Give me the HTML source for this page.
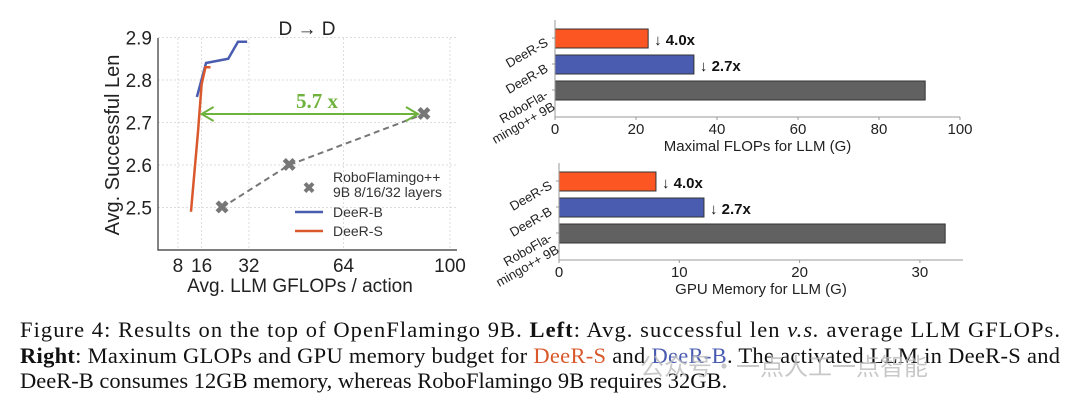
<!DOCTYPE html>
<html><head><meta charset="utf-8"><style>
body{margin:0;background:#fff}
svg{display:block}
.s{font-family:"Liberation Sans",sans-serif}
.r{font-family:"Liberation Serif",serif}
</style></head><body>
<svg id="fig" width="1080" height="409" viewBox="0 0 1080 409" xmlns="http://www.w3.org/2000/svg">
<g id="left"></g>
<g id="bar1"></g>
<g id="bar2"></g>
<g class="r" font-size="22.5" fill="#111">
<text x="20" y="337" textLength="1040" lengthAdjust="spacing">Figure 4:  Results on the top of OpenFlamingo 9B. <tspan font-weight="bold">Left</tspan>:  Avg.  successful len <tspan font-style="italic">v.s.</tspan>  average LLM GFLOPs.</text>
<text x="20" y="363" textLength="1040" lengthAdjust="spacing"><tspan font-weight="bold">Right</tspan>: Maxinum GLOPs and GPU memory budget for <tspan fill="#d9582c">DeeR-S</tspan> and <tspan fill="#4a5cb0">DeeR-B</tspan>. The activated LLM in DeeR-S and</text>
<text x="20" y="388">DeeR-B consumes 12GB memory, whereas RoboFlamingo 9B requires 32GB.</text>
</g>
<text x="640" y="375" font-size="24" fill="#bbb" opacity="0.8" style='font-family:"Liberation Sans","Noto Sans CJK SC",sans-serif'>公众号・一点人工一点智能</text>
</svg>
<script>
const NS="http://www.w3.org/2000/svg";
// Left chart data
const xTicks=[8,16,32,64,100];
const yTicks=[2.5,2.6,2.7,2.8,2.9];
const deerBX=[14.4,17.5,25.0,28.3,31.4];
const deerBY=[2.76,2.84,2.85,2.89,2.89];
const deerSX=[12.4,14.8,16.0,17.3,19.0];
const deerSY=[2.49,2.68,2.79,2.83,2.83];
const roboX=[22.9,45.6,91.2];
const roboY=[2.50,2.60,2.72];
const speedup="5.7 x";
// Bar chart data
const barCats=["DeeR-S","DeeR-B","RoboFlamingo++ 9B"];
const flopsVals=[23,34.3,91.4];
const memVals=[8.06,12.05,32.1];
const barNotes=["↓ 4.0x","↓ 2.7x",""];
const flopsTicks=[0,20,40,60,80,100];
const memTicks=[0,10,20,30];

function el(p,tag,a,txt){const e=document.createElementNS(NS,tag);for(const k in a)e.setAttribute(k,a[k]);if(txt!==undefined)e.textContent=txt;p.appendChild(e);return e;}

// LEFT
const L=document.getElementById('left');
const sx=v=>154.3+(v)*2.957, sy=v=>250-(v-2.4)*425;
yTicks.forEach(t=>{const g=el(L,'line',{x1:158,x2:457,y1:sy(t),y2:sy(t),stroke:'#ddd','stroke-dasharray':'2,2'});


const tx=el(L,'text',{x:152,y:sy(t)+7,'text-anchor':'end','font-size':19,class:'s',fill:'#222'},t.toFixed(1));

});
xTicks.forEach(t=>{const g=el(L,'line',{x1:sx(t),x2:sx(t),y1:38,y2:250,stroke:'#ddd','stroke-dasharray':'2,2'});


const tx=el(L,'text',{x:sx(t),y:272,'text-anchor':'middle','font-size':19,class:'s',fill:'#222'},t);

});
let a=el(L,'path',{d:'M158 38V250H457',fill:'none',stroke:'#333','stroke-width':1.2});


a=el(L,'text',{x:307,y:35,'text-anchor':'middle','font-size':19,class:'s',fill:'#222'},'D → D');


a=el(L,'text',{x:0,y:0,transform:'translate(119,145) rotate(-90)','text-anchor':'middle','font-size':20,class:'s',fill:'#222'},'Avg. Successful Len');


a=el(L,'text',{x:300,y:292,'text-anchor':'middle','font-size':19,class:'s',fill:'#222'},'Avg. LLM GFLOPs / action');


const pts=(X,Y)=>X.map((x,i)=>sx(x)+','+sy(Y[i])).join(' ');
a=el(L,'polyline',{points:pts(roboX,roboY),fill:'none',stroke:'#777','stroke-width':2,'stroke-dasharray':'6,4'});


roboX.forEach((x,i)=>{const m=el(L,'text',{x:sx(x),y:sy(roboY[i])+6,'text-anchor':'middle','font-size':18,'font-weight':'bold',class:'s',fill:'#777'},'✖');

});
a=el(L,'polyline',{points:pts(deerBX,deerBY),fill:'none',stroke:'#4a5cb0','stroke-width':2.5});


a=el(L,'polyline',{points:pts(deerSX,deerSY),fill:'none',stroke:'#d9582c','stroke-width':2.5});


const ay=sy(roboY[2]), ax1=sx(16.0), ax2=sx(roboX[2])-6;
a=el(L,'path',{d:`M${ax1} ${ay}H${ax2}M${ax1+12} ${ay-7}L${ax1} ${ay}L${ax1+12} ${ay+7}M${ax2-12} ${ay-7}L${ax2} ${ay}L${ax2-12} ${ay+7}`,fill:'none',stroke:'#6fb33e','stroke-width':2});


a=el(L,'text',{x:317,y:108,'text-anchor':'middle','font-size':21,'font-weight':'bold',class:'r',fill:'#6fb33e'},speedup);


// legend
a=el(L,'text',{x:309,y:193,'text-anchor':'middle','font-size':15,'font-weight':'bold',class:'s',fill:'#777'},'✖');


a=el(L,'text',{x:333,y:182,'font-size':14,class:'s',fill:'#333'},'RoboFlamingo++');


a=el(L,'text',{x:333,y:197,'font-size':14,class:'s',fill:'#333'},'9B 8/16/32 layers');


[['#4a5cb0','DeeR-B',212],['#d9582c','DeeR-S',231]].forEach(([c,n,y])=>{
const l=el(L,'line',{x1:295,x2:323,y1:y,y2:y,stroke:c,'stroke-width':2.5});


const t=el(L,'text',{x:333,y:y+5,'font-size':14,class:'s',fill:'#333'},n);

});

// BARS
function bars(G,x0,scale,xmax,top,bottom,b0,vals,ticks,title,labY){
const colors=['#fc5622','#4a5cb0','#616161'];
const sxb=v=>x0+v*scale;
vals.forEach((v,i)=>{const y=b0+i*26;
const r=el(G,'rect',{x:x0,y:y,width:sxb(v)-x0,height:19,fill:colors[i],stroke:'#333','stroke-width':1});


if(barNotes[i]){const t=el(G,'text',{x:sxb(v)+6,y:y+16,'font-size':15,'font-weight':'bold',class:'s',fill:'#111'},barNotes[i]);

}
const lab=i<2?[barCats[i]]:['RoboFla-','mingo++ 9B'];
const tl=el(G,'text',{transform:`translate(${x0-6},${y+16}) rotate(-30)`,'text-anchor':'end','font-size':13,class:'s',fill:'#222'});


lab.forEach((s,j)=>el(tl,'tspan',{x:0,dy:j?14:0},s));
el(G,'line',{x1:x0-3,x2:x0,y1:y+9,y2:y+9,stroke:'#999'});});
ticks.forEach(t=>{el(G,'line',{x1:sxb(t),x2:sxb(t),y1:bottom,y2:bottom+3,stroke:'#999'});
const tx=el(G,'text',{x:sxb(t),y:bottom+17,'text-anchor':'middle','font-size':15,class:'s',fill:'#222'},t);

});
const ax=el(G,'path',{d:`M${x0} ${top}V${bottom}H${xmax}`,fill:'none',stroke:'#999','stroke-width':1});


const tt=el(G,'text',{x:(x0+xmax)/2,y:labY,'text-anchor':'middle','font-size':15,class:'s',fill:'#222'},title);

}
bars(document.getElementById('bar1'),555,4.05,960,20,117,29,flopsVals,flopsTicks,'Maximal FLOPs for LLM (G)',151);
bars(document.getElementById('bar2'),559,12.03,963,163,260,172,memVals,memTicks,'GPU Memory for LLM (G)',294);
</script>
</body></html>
